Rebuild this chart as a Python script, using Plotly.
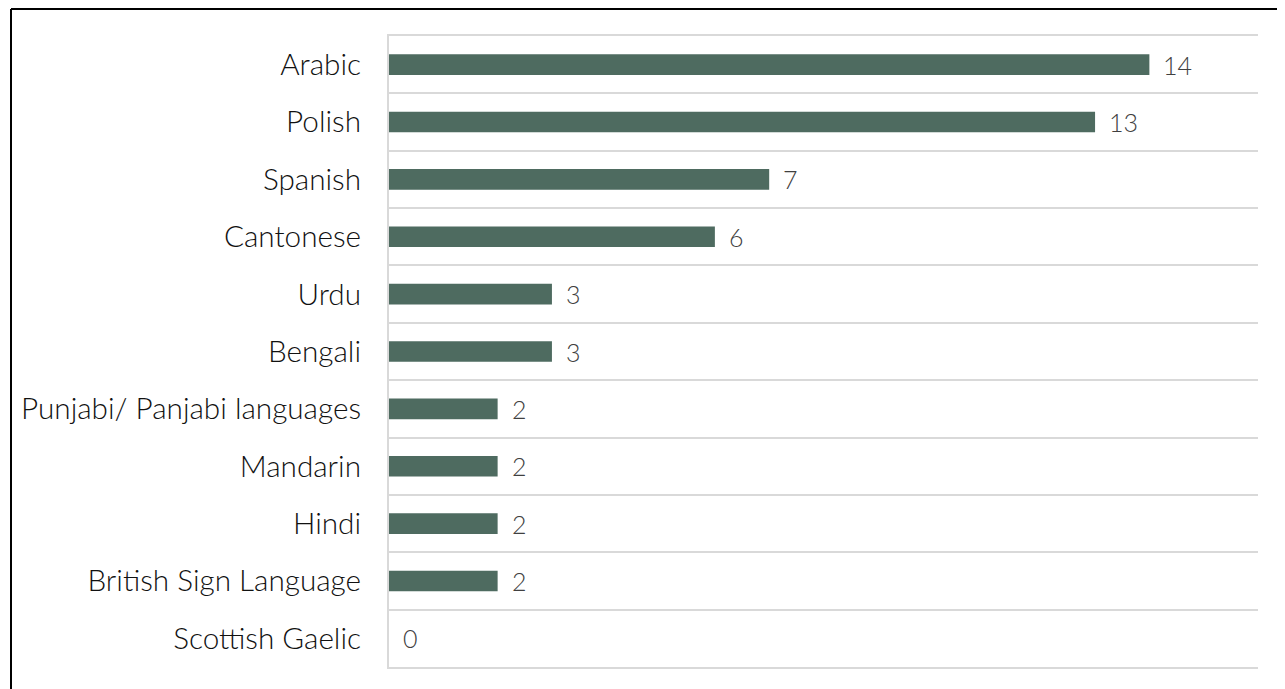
import plotly.graph_objects as go

languages = ["Arabic", "Polish", "Spanish", "Cantonese", "Urdu", "Bengali",
             "Punjabi/ Panjabi languages", "Mandarin", "Hindi",
             "British Sign Language", "Scottish Gaelic"]
counts = [14, 13, 7, 6, 3, 3, 2, 2, 2, 2, 0]

BAR = "#4e6b60"
FONT = "Lato, 'Open Sans', sans-serif"

W, H = 1277, 681
L, R, T, B = 381, 27, 28, 22
PW, PH = W - L - R, H - T - B

fig = go.Figure(go.Bar(
    x=counts, y=languages, orientation="h",
    marker=dict(color=BAR, line=dict(width=0)),
    width=0.36, hoverinfo="x+y",
))

for lang, v in zip(languages, counts):
    fig.add_annotation(x=v, y=lang, text=str(v), showarrow=False,
                       xanchor="left", xshift=12, yshift=0,
                       font=dict(family=FONT, size=25, color="#404040", weight=300))

bx = (3 - L) / PW
by = 1 + (T - 1) / PH

fig.update_layout(
    width=W, height=H,
    margin=dict(l=L, r=R, t=T, b=B, autoexpand=False),
    paper_bgcolor="white", plot_bgcolor="white",
    showlegend=False,
    font=dict(family=FONT, size=29.7, color="#111111"),
    xaxis=dict(range=[0, 16], showgrid=False, zeroline=False,
               showticklabels=False, showline=True, mirror=True,
               linecolor="#d9d9d9", linewidth=2, fixedrange=True,
               automargin=False),
    yaxis=dict(type="category", categoryorder="array", categoryarray=languages,
               autorange="reversed", tickson="boundaries", ticks="",
               showgrid=True, gridcolor="#d9d9d9", gridwidth=2,
               showline=True, linecolor="#d9d9d9", linewidth=2,
               ticklabelstandoff=20, automargin=False,
               tickfont=dict(size=29.7, color="#111111", weight=300)),
    shapes=[
        dict(type="line", xref="paper", yref="paper",
             x0=bx, x1=1.2, y0=by, y1=by,
             line=dict(color="black", width=2)),
        dict(type="line", xref="paper", yref="paper",
             x0=bx, x1=bx, y0=by, y1=-0.2,
             line=dict(color="black", width=2)),
    ],
)

fig.write_html("out.html")
